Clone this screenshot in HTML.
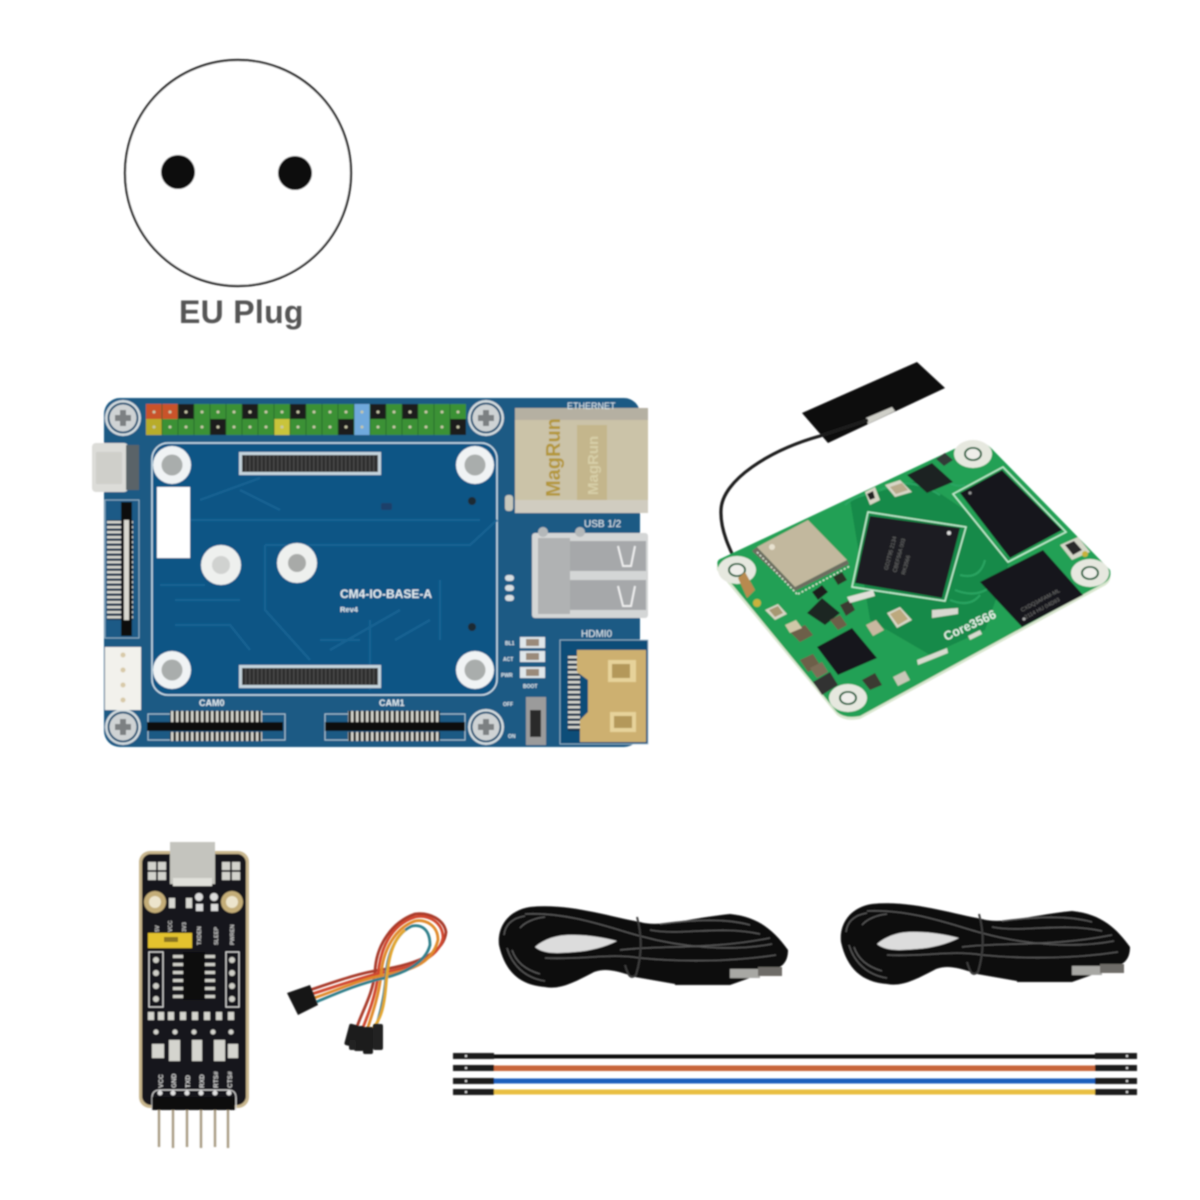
<!DOCTYPE html>
<html><head><meta charset="utf-8"><title>Kit</title>
<style>html,body{margin:0;padding:0;background:#fff}svg{display:block}text{font-family:"Liberation Sans",sans-serif}</style></head>
<body>
<svg width="1200" height="1200" viewBox="0 0 1200 1200" xmlns="http://www.w3.org/2000/svg">
<defs>
<filter id="b" x="-5%" y="-5%" width="110%" height="110%"><feGaussianBlur stdDeviation="0.7"/></filter>
<clipPath id="coreclip"><path d="M720 559 L967 443 Q982 438 993 450 L1110 570 Q1112 579 1104 583 L860 716 Q845 719 837 712 L718 567 Q716 561 720 559Z"/></clipPath>
<pattern id="tv" width="5" height="10" patternUnits="userSpaceOnUse"><rect width="5" height="10" fill="#1a1a1a"/><rect x="1" width="2.4" height="10" fill="#d8d8d0"/></pattern>
<pattern id="th" width="10" height="5" patternUnits="userSpaceOnUse"><rect width="10" height="5" fill="#12324c"/><rect y="1" width="10" height="2.4" fill="#d8d8d0"/></pattern>
<pattern id="conn" width="4" height="6" patternUnits="userSpaceOnUse"><rect width="4" height="6" fill="#2c2c2c"/><rect x="1" width="1.5" height="6" fill="#4c4c4c"/></pattern>
<g id="screw"><circle r="18" fill="#d4dcdf"/><circle r="15.5" fill="#1a4f72"/><circle r="13.5" fill="#cfd3d4"/><path d="M-8 -3H-3V-8H3V-3H8V3H3V8H-3V3H-8Z" fill="#7c8082"/></g>
<g id="hole"><circle r="19" fill="#f0f3f4"/><circle r="10.5" fill="#a9adac"/></g>
<g id="chole"><ellipse rx="19" ry="14" fill="#e6e8df"/><ellipse rx="9" ry="7" fill="#1b5c38"/><ellipse rx="7" ry="5.2" fill="#efeeea"/></g>
<g id="cable">
<path d="M530 907 C570 903 610 917 640 922 C660 928 690 918 730 914 C760 917 775 932 788 950 C788 962 782 966 778 968 L730 985 L675 984 L635 977 C615 970 605 968 594 972 C575 982 560 990 545 987 C520 985 505 972 499 945 C497 925 510 910 530 907Z" fill="#0c0c0c"/>
<path d="M535 947 C545 938 560 934 575 935 C590 935 605 938 617 941 C605 947 590 951 575 952 C560 953 545 955 535 947Z" fill="#dcdcdc"/>
<g fill="none" stroke="#5a5a5a" stroke-width="1.3">
<path d="M525 914 C570 912 610 928 640 936 C680 947 730 952 772 944"/>
<path d="M507 948 C512 965 525 978 545 981"/>
<path d="M512 950 C516 962 526 970 540 974"/>
<path d="M504 935 C505 925 512 918 525 916"/>
<path d="M520 928 C525 922 535 918 545 917"/>
<path d="M650 930 C680 936 720 925 760 934"/>
<path d="M660 924 C690 920 725 918 750 925"/>
<path d="M545 958 C580 960 610 953 640 958 C680 962 730 962 776 955"/>
<path d="M620 950 C660 945 710 950 770 938"/>
</g>
<path d="M637 917 C642 935 642 955 636 975 C630 980 628 975 625 965" fill="none" stroke="#3c3c3c" stroke-width="2"/>
<rect x="675" y="967" width="55" height="18" fill="#111"/>
<rect x="730" y="969" width="30" height="9" fill="#a8a8a4"/>
<rect x="758" y="967" width="24" height="9" fill="#6e6c68"/>
</g>
</defs>

<rect width="1200" height="1200" fill="#fff"/>

<!-- EU plug -->
<g filter="url(#b)">
<circle cx="238" cy="173" r="113" fill="#fff" stroke="#222" stroke-width="2.2"/>
<circle cx="178" cy="172" r="17" fill="#111"/>
<circle cx="295" cy="173" r="17" fill="#111"/>
<text x="179" y="323" font-size="32" font-weight="bold" fill="#555" letter-spacing="0.3">EU Plug</text>
</g>

<!-- Blue base board -->
<g filter="url(#b)">
<rect x="104" y="398" width="536" height="349" rx="16" fill="#1b5a84"/>
<rect x="152" y="443" width="345" height="252" rx="16" fill="#0e5585" stroke="#cfe0ea" stroke-width="1.5"/>
<g fill="none" stroke="#176494" stroke-width="2.5" opacity=".9">
<path d="M190 520H480"/><path d="M265 545H470L497 520"/><path d="M265 545V610L310 660"/>
<path d="M240 490L280 510"/><path d="M175 600H240"/><path d="M175 625H230L250 650"/>
<path d="M370 620V690"/><path d="M395 640L430 620"/><path d="M200 500L260 478"/><path d="M330 650L400 610"/>
<path d="M160 585H205"/><path d="M320 640H360"/><path d="M440 580V640"/>
</g>
<!-- header -->
<rect x="146" y="404" width="320" height="31" fill="#3a9136"/>
<g fill="#1f1f1f">
<rect x="178" y="404" width="16" height="15"/><rect x="242" y="404" width="16" height="15"/><rect x="290" y="404" width="16" height="15"/><rect x="370" y="404" width="16" height="15"/><rect x="402" y="404" width="16" height="15"/>
<rect x="210" y="419" width="16" height="16"/><rect x="338" y="419" width="16" height="16"/><rect x="450" y="419" width="16" height="16"/>
</g>
<rect x="146" y="404" width="16" height="15" fill="#c9532a"/><rect x="162" y="404" width="16" height="15" fill="#c9532a"/>
<rect x="146" y="419" width="16" height="16" fill="#b8ac2c"/><rect x="274" y="419" width="16" height="16" fill="#c9c43a"/>
<rect x="354" y="404" width="16" height="31" fill="#6fa9dc"/>
<g stroke="#1f5f2a" stroke-width="1" opacity=".7"><path d="M162 404V435M178 404V435M194 404V435M210 404V435M226 404V435M242 404V435M258 404V435M274 404V435M290 404V435M306 404V435M322 404V435M338 404V435M354 404V435M370 404V435M386 404V435M402 404V435M418 404V435M434 404V435M450 404V435"/></g>
<g fill="#c8c8a8">
<circle cx="154" cy="412" r="1.5"/><circle cx="170" cy="412" r="1.5"/><circle cx="186" cy="412" r="1.5"/><circle cx="202" cy="412" r="1.5"/><circle cx="218" cy="412" r="1.5"/><circle cx="234" cy="412" r="1.5"/><circle cx="250" cy="412" r="1.5"/><circle cx="266" cy="412" r="1.5"/><circle cx="282" cy="412" r="1.5"/><circle cx="298" cy="412" r="1.5"/><circle cx="314" cy="412" r="1.5"/><circle cx="330" cy="412" r="1.5"/><circle cx="346" cy="412" r="1.5"/><circle cx="362" cy="412" r="1.5"/><circle cx="378" cy="412" r="1.5"/><circle cx="394" cy="412" r="1.5"/><circle cx="410" cy="412" r="1.5"/><circle cx="426" cy="412" r="1.5"/><circle cx="442" cy="412" r="1.5"/><circle cx="458" cy="412" r="1.5"/>
<circle cx="154" cy="427" r="1.5"/><circle cx="170" cy="427" r="1.5"/><circle cx="186" cy="427" r="1.5"/><circle cx="202" cy="427" r="1.5"/><circle cx="218" cy="427" r="1.5"/><circle cx="234" cy="427" r="1.5"/><circle cx="250" cy="427" r="1.5"/><circle cx="266" cy="427" r="1.5"/><circle cx="282" cy="427" r="1.5"/><circle cx="298" cy="427" r="1.5"/><circle cx="314" cy="427" r="1.5"/><circle cx="330" cy="427" r="1.5"/><circle cx="346" cy="427" r="1.5"/><circle cx="362" cy="427" r="1.5"/><circle cx="378" cy="427" r="1.5"/><circle cx="394" cy="427" r="1.5"/><circle cx="410" cy="427" r="1.5"/><circle cx="426" cy="427" r="1.5"/><circle cx="442" cy="427" r="1.5"/><circle cx="458" cy="427" r="1.5"/>
</g>
<!-- screws, holes -->
<use href="#screw" x="123" y="418"/><use href="#screw" x="486" y="418"/><use href="#screw" x="123" y="727"/><use href="#screw" x="486" y="727"/>
<use href="#hole" x="172" y="465"/><use href="#hole" x="475" y="465"/><use href="#hole" x="172" y="670"/><use href="#hole" x="475" y="670"/>
<circle cx="221" cy="565" r="20" fill="#eef0ee"/><circle cx="221" cy="565" r="9" fill="#d0d2d0"/>
<circle cx="297" cy="563" r="20" fill="#eef0ee"/><circle cx="297" cy="563" r="9" fill="#a8aaa8"/>
<rect x="157" y="487" width="33" height="71" fill="#fff"/>
<!-- b2b connectors -->
<rect x="239" y="452" width="142" height="23" fill="#c5d4dd"/><rect x="242" y="455" width="136" height="17" fill="url(#conn)"/>
<rect x="239" y="665" width="142" height="23" fill="#c5d4dd"/><rect x="242" y="668" width="136" height="17" fill="url(#conn)"/>
<circle cx="472" cy="501" r="4" fill="#1a2a30"/><circle cx="472" cy="627" r="4" fill="#1a2a30"/>
<rect x="381" y="503" width="11" height="7" rx="2" fill="#1d3f6a"/>
<!-- usb-c -->
<rect x="92" y="443" width="36" height="49" rx="4" fill="#dcdcd8"/><rect x="96" y="452" width="26" height="32" fill="#cfcfca"/><rect x="126" y="445" width="13" height="45" fill="#5a6468"/>
<!-- FPC left -->
<rect x="105" y="500" width="34" height="138" fill="#1a5a86" stroke="#a8c4d4" stroke-width=".8"/>
<rect x="107" y="520" width="26" height="100" fill="url(#th)"/>
<rect x="121" y="502" width="11" height="134" fill="#111"/><rect x="124" y="520" width="5" height="100" fill="#d8d8d0"/>
<!-- white connector -->
<rect x="105" y="647" width="36" height="63" fill="#f2f1ec"/>
<g fill="#d8c9a8"><circle cx="123" cy="655" r="2.5"/><circle cx="123" cy="670" r="2.5"/><circle cx="123" cy="685" r="2.5"/><circle cx="123" cy="700" r="2.5"/></g>
<!-- CAM connectors -->
<rect x="148" y="714" width="137" height="26" fill="none" stroke="#a8c4d4" stroke-width="1"/>
<rect x="170" y="711" width="92" height="11" fill="url(#tv)"/><rect x="147" y="722" width="136" height="9" fill="#111"/><rect x="170" y="732" width="92" height="9" fill="url(#tv)"/>
<rect x="325" y="714" width="140" height="26" fill="none" stroke="#a8c4d4" stroke-width="1"/>
<rect x="348" y="711" width="92" height="11" fill="url(#tv)"/><rect x="325" y="722" width="140" height="9" fill="#111"/><rect x="348" y="732" width="92" height="9" fill="url(#tv)"/>
<!-- LEDs & switch -->
<g fill="#dfe6ea"><rect x="520" y="637" width="25" height="11"/><rect x="520" y="651" width="25" height="11"/><rect x="520" y="667" width="25" height="11"/></g>
<g fill="#9a8a7a"><rect x="526" y="639" width="13" height="7"/><rect x="526" y="653" width="13" height="7"/><rect x="526" y="669" width="13" height="7"/></g>
<rect x="526" y="697" width="20" height="48" fill="#9b9b9b"/><rect x="530" y="710" width="11" height="27" fill="#2a2a2a"/>
<g fill="#d8dfe2"><rect x="505" y="575" width="9" height="6" rx="3"/><rect x="505" y="585" width="9" height="6" rx="3"/><rect x="505" y="595" width="9" height="6" rx="3"/></g>
<!-- ethernet -->
<rect x="515" y="408" width="133" height="105" fill="#cbc3a8"/>
<rect x="515" y="408" width="133" height="12" fill="#b5b0a2"/>
<rect x="577" y="425" width="30" height="76" fill="#c4b68c"/>
<text transform="translate(560 497) rotate(-90)" font-size="20" font-weight="bold" fill="#b4973a">MagRun</text>
<text transform="translate(598 495) rotate(-90)" font-size="15" font-weight="bold" fill="#d7cfa8">MagRun</text>
<rect x="515" y="500" width="133" height="13" fill="#d0ccc0"/>
<rect x="505" y="495" width="8" height="16" rx="3" fill="#c8c8bc"/>
<!-- USB -->
<rect x="532" y="533" width="116" height="85" rx="3" fill="#d4d6d6"/>
<rect x="538" y="538" width="32" height="76" fill="#b0b2b3"/>
<rect x="570" y="541" width="76" height="30" fill="#a6a8aa"/><rect x="570" y="580" width="76" height="30" fill="#a6a8aa"/>
<path d="M618 546l5 20h8l4-20" fill="none" stroke="#eee" stroke-width="2"/><path d="M618 586l5 20h8l4-20" fill="none" stroke="#eee" stroke-width="2"/>
<circle cx="543" cy="532" r="5" fill="#b4b8ba"/><circle cx="580" cy="532" r="5" fill="#b4b8ba"/>
<!-- HDMI -->
<rect x="560" y="640" width="88" height="104" fill="#114d78" stroke="#a8c4d4" stroke-width=".8"/>
<rect x="568" y="655" width="12" height="76" fill="url(#th)"/>
<path d="M577 650H646V742H580V720L588 712V680L577 672Z" fill="#cdb070"/>
<rect x="608" y="660" width="28" height="22" fill="#e6d29a"/><rect x="610" y="712" width="26" height="20" fill="#e6d29a"/>
<path d="M612 664h18v14h-18z M614 716h18v12h-18z" fill="#b4985a"/>
<!-- labels -->
<text x="340" y="598" font-size="12" font-weight="bold" fill="#e6eef2">CM4-IO-BASE-A</text>
<text x="340" y="612" font-size="7.5" font-weight="bold" fill="#e6eef2">Rev4</text>
<text x="199" y="706" font-size="9" font-weight="bold" fill="#e6eef2">CAM0</text>
<text x="379" y="706" font-size="9" font-weight="bold" fill="#e6eef2">CAM1</text>
<text x="567" y="409" font-size="9" fill="#e6eef2">ETHERNET</text>
<text x="584" y="527" font-size="10" fill="#e6eef2">USB 1/2</text>
<text x="581" y="637" font-size="10" fill="#e6eef2">HDMI0</text>
<g font-size="5" fill="#e6eef2" font-weight="bold"><text x="505" y="645">BL1</text><text x="503" y="661">ACT</text><text x="501" y="677">PWR</text><text x="523" y="688">BOOT</text><text x="503" y="706">OFF</text><text x="508" y="738">ON</text></g>
</g>

<!-- Antenna + Core board -->
<g filter="url(#b)">
<polygon points="802,413 917,362 945,388 828,443" fill="#111"/>
<polygon points="866,418 892,407 895,411 868,424" fill="#cfcfc8"/>
<path d="M868 420 L820 436 C770 450 722 480 721 510 C720 530 730 550 738 566" fill="none" stroke="#1e1e1e" stroke-width="3.2"/>
<path d="M720 561 L967 445 Q982 440 993 453 L1110 573 Q1112 582 1104 586 L860 719 Q845 722 837 715 L717 570 Q716 563 720 561Z" fill="#d9e6cf"/>
<path d="M720 559 L967 443 Q982 438 993 450 L1110 570 Q1112 579 1104 583 L860 716 Q845 719 837 712 L718 567 Q716 561 720 559Z" fill="#22a055"/>
<g clip-path="url(#coreclip)">
<path d="M850 500 L920 480 L965 510 L1010 560 L985 630 L930 655 L870 620Z" fill="#178a4a"/>
<g fill="none" stroke="#2aa562" stroke-width="2"><path d="M880 490q30-15 60 5"/><path d="M950 600q20 8 30-5"/><path d="M960 575q20 5 25-15"/><path d="M845 505q10-10 30-12"/><path d="M955 590q25 10 40-8"/><path d="M945 480q10 8 20 5"/></g>
</g>
<!-- holes -->
<use href="#chole" x="973" y="454"/><use href="#chole" x="1090" y="573"/><use href="#chole" x="848" y="698"/><use href="#chole" x="737" y="570"/>
<!-- SoC -->
<polygon points="868,512 966,527 945,601 852,587" fill="none" stroke="#c4eed2" stroke-width="1.5"/>
<polygon points="870,516 960,528 942,598 855,583" fill="#1d1f22"/>
<circle cx="949" cy="533" r="2" fill="#ddd"/>
<g transform="translate(905 575) rotate(-75)" font-size="5.5" fill="#777"><text x="0" y="0">RK3566</text><text x="0" y="-9">CBEF56A 003</text><text x="0" y="-18">GD2T95 2134</text></g>
<!-- RAM -->
<polygon points="953,494 1003,467 1066,532 1008,562" fill="none" stroke="#c4eed2" stroke-width="1.5"/>
<polygon points="960,493 1002,470 1062,530 1010,558" fill="#17181a"/>
<circle cx="970" cy="493" r="1.5" fill="#999"/>
<!-- eMMC -->
<polygon points="980,582 1043,550 1083,595 1022,627" fill="#17181a"/>
<circle cx="1024" cy="619" r="1.5" fill="#aaa"/>
<g transform="translate(1022 612) rotate(-28)" font-size="5.5" fill="#777"><text x="0" y="0">CXDQ3AFAM-ML</text><text x="0" y="8">2114 HU 04D93</text></g>
<!-- wifi -->
<polygon points="752,551 795,591 849,564 847,560 795,587 757,547" fill="#6d6d60"/>
<polygon points="757,547 808,520 847,560 795,587" fill="#c2b89e"/>
<circle cx="772" cy="547" r="3" fill="#e8e2d0"/>
<g fill="none" stroke="#dfe9d8" stroke-width="1.5" stroke-dasharray="2 2"><path d="M757 552L797 594"/><path d="M798 594L850 566"/></g>
<!-- chips & parts -->
<polygon points="907,475 932,463 953,482 927,493" fill="#1e2422"/>
<polygon points="936,459 945,453 953,460 944,466" fill="#333a38"/>
<polygon points="817,647 852,628 877,658 838,675" fill="#17191a"/>
<polygon points="807,613 822,598 840,613 825,625" fill="#1f2624"/>
<polygon points="812,592 822,585 828,592 818,600" fill="#1a1a1a"/>
<polygon points="833,577 842,572 847,580 838,585" fill="#2a3028"/>
<polygon points="840,605 850,600 855,610 846,616" fill="#3a3a30"/>
<polygon points="885,485 900,480 912,492 895,497" fill="#d8d6c6"/><polygon points="890,487 902,483 908,490 896,494" fill="#b8ab8c"/>
<polygon points="887,613 900,607 912,620 897,628" fill="#d8d6c6"/><polygon points="890,614 900,609 908,619 898,625" fill="#bca97e"/>
<polygon points="765,610 778,604 787,614 775,620" fill="#d8d6c6"/><polygon points="769,610 778,606 783,613 775,617" fill="#a69872"/>
<polygon points="865,492 875,487 880,500 870,505" fill="#d8d6c6"/><polygon points="867,494 873,491 875,498 870,500" fill="#222"/>
<polygon points="1060,545 1078,537 1090,552 1072,560" fill="#d4d6c8"/><polygon points="1065,545 1074,541 1082,550 1073,555" fill="#2c2c2c"/>
<polygon points="790,632 805,625 813,635 800,642" fill="#6d5e48"/><polygon points="800,660 813,654 820,665 808,672" fill="#6d5e48"/>
<polygon points="813,682 830,672 838,685 822,695" fill="#333"/><polygon points="862,680 875,673 882,685 870,690" fill="#3a3a30"/>
<polygon points="830,620 840,615 847,625 838,630" fill="#6d5e48"/><polygon points="866,625 876,620 884,630 873,636" fill="#c8b8a0"/>
<polygon points="785,625 796,620 802,628 790,633" fill="#d0c8a8"/>
<polygon points="810,668 822,662 828,672 817,678" fill="#7d6e58"/>
<polygon points="893,677 905,671 910,680 898,686" fill="#c8c8b8"/>
<polygon points="847,597 873,590 875,596 850,603" fill="#e0e0d8"/>
<polygon points="738,578 745,572 755,590 747,598" fill="#b88a50"/>
<circle cx="757" cy="603" r="4" fill="#c8b23c"/><circle cx="1085" cy="554" r="3" fill="#c8b23c"/>
<polygon points="932,610 958,608 958,614 932,618" fill="#d8d8d0"/>
<polygon points="917,660 947,648 948,653 918,665" fill="#d8dcd0"/>
<polygon points="968,636 980,630 982,634 970,640" fill="#d8dcd0"/>
<text transform="translate(946 641) rotate(-25)" font-size="12.5" font-weight="bold" fill="#e6f2e8">Core3566</text>
</g>

<!-- UART board -->
<g filter="url(#b)">
<rect x="139" y="851" width="110" height="257" rx="11" fill="#c8b68e"/>
<rect x="142" y="854" width="104" height="251" rx="9" fill="#17171a"/>
<rect x="170" y="842" width="45" height="42" fill="#c4c4be"/><rect x="173" y="878" width="39" height="8" fill="#e0e0da"/>
<g fill="#d2d2cc"><rect x="148" y="862" width="8" height="8"/><rect x="148" y="872" width="8" height="8"/><rect x="158" y="862" width="8" height="8"/><rect x="158" y="872" width="8" height="8"/><rect x="222" y="862" width="8" height="8"/><rect x="222" y="872" width="8" height="8"/><rect x="232" y="862" width="8" height="8"/><rect x="232" y="872" width="8" height="8"/></g>
<circle cx="155" cy="902" r="11" fill="#c4ad78"/><circle cx="155" cy="902" r="6" fill="#ece4cc"/>
<circle cx="232" cy="902" r="11" fill="#c4ad78"/><circle cx="232" cy="902" r="6" fill="#ece4cc"/>
<rect x="169" y="898" width="6" height="10" fill="#d8d8d2"/><rect x="186" y="898" width="6" height="10" fill="#d8d8d2"/>
<circle cx="199" cy="897" r="4" fill="#ddd"/><rect x="196" y="904" width="7" height="7" fill="#ddd"/><circle cx="214" cy="897" r="4" fill="#ddd"/><rect x="211" y="904" width="7" height="7" fill="#ddd"/>
<rect x="148" y="933" width="44" height="15" fill="#e3c22e"/><rect x="164" y="937" width="14" height="5" fill="#8a7420"/>
<g fill="#cfcfcf" font-size="5.5" font-weight="bold">
<text transform="translate(159 932) rotate(-90)">5V</text><text transform="translate(172 932) rotate(-90)">VCC</text><text transform="translate(186 932) rotate(-90)">3V3</text>
<text transform="translate(201 945) rotate(-90)">TXDEN</text><text transform="translate(218 945) rotate(-90)">SLEEP</text><text transform="translate(234 945) rotate(-90)">PWREN</text>
</g>
<rect x="149" y="952" width="14" height="55" fill="none" stroke="#ddd" stroke-width="1"/>
<rect x="226" y="952" width="13" height="55" fill="none" stroke="#ddd" stroke-width="1"/>
<g fill="#cfcfc8"><circle cx="156" cy="960" r="3"/><circle cx="156" cy="973" r="3"/><circle cx="156" cy="986" r="3"/><circle cx="156" cy="999" r="3"/><circle cx="232" cy="960" r="3"/><circle cx="232" cy="973" r="3"/><circle cx="232" cy="986" r="3"/><circle cx="232" cy="999" r="3"/></g>
<rect x="183" y="952" width="22" height="48" fill="#0c0c0c"/>
<g fill="#cfcfc8"><rect x="173" y="955" width="10" height="3"/><rect x="173" y="963" width="10" height="3"/><rect x="173" y="971" width="10" height="3"/><rect x="173" y="979" width="10" height="3"/><rect x="173" y="987" width="10" height="3"/><rect x="173" y="995" width="10" height="3"/>
<rect x="205" y="955" width="10" height="3"/><rect x="205" y="963" width="10" height="3"/><rect x="205" y="971" width="10" height="3"/><rect x="205" y="979" width="10" height="3"/><rect x="205" y="987" width="10" height="3"/><rect x="205" y="995" width="10" height="3"/></g>
<g fill="#d4d4ce"><rect x="148" y="1012" width="6" height="8"/><rect x="158" y="1012" width="6" height="8"/><rect x="168" y="1012" width="6" height="8"/><rect x="180" y="1012" width="6" height="8"/><rect x="192" y="1012" width="6" height="8"/><rect x="204" y="1012" width="6" height="8"/><rect x="216" y="1012" width="6" height="8"/><rect x="228" y="1012" width="6" height="8"/>
<circle cx="156" cy="1032" r="2.5"/><circle cx="175" cy="1032" r="2.5"/><circle cx="194" cy="1032" r="2.5"/><circle cx="213" cy="1032" r="2.5"/><circle cx="231" cy="1032" r="2.5"/>
<rect x="169" y="1040" width="11" height="21"/><rect x="192" y="1040" width="10" height="21"/><rect x="214" y="1040" width="11" height="21"/>
<rect x="152" y="1044" width="12" height="14"/><rect x="228" y="1044" width="10" height="14"/></g>
<g fill="#d8d8d8" font-size="6.5" font-weight="bold">
<text transform="translate(163 1088) rotate(-90)">VCC</text><text transform="translate(176 1088) rotate(-90)">GND</text><text transform="translate(190 1088) rotate(-90)">TXD</text><text transform="translate(204 1088) rotate(-90)">RXD</text><text transform="translate(218 1088) rotate(-90)">RTS#</text><text transform="translate(232 1088) rotate(-90)">CTS#</text>
</g>
<path d="M152 1110V1098Q152 1090 160 1090H228Q236 1090 236 1098V1110" fill="none" stroke="#ddd" stroke-width="1"/>
<g fill="#e0e0e0"><circle cx="160" cy="1093" r="2.5"/><circle cx="173" cy="1093" r="2.5"/><circle cx="187" cy="1093" r="2.5"/><circle cx="201" cy="1093" r="2.5"/><circle cx="215" cy="1093" r="2.5"/><circle cx="229" cy="1093" r="2.5"/></g>
<rect x="152" y="1097" width="83" height="13" fill="#0a0a0a"/>
<g stroke="#a89c84" stroke-width="2.4"><path d="M159 1110V1147"/><path d="M173 1110V1148"/><path d="M187 1110V1147"/><path d="M201 1110V1148"/><path d="M215 1110V1147"/><path d="M228 1110V1148"/></g>
</g>

<!-- jumper bundle -->
<g filter="url(#b)" fill="none" stroke-width="2.8">
<path d="M310 990 C340 980 360 973 380 970 C412 965 444 955 446 932 C444 920 430 912 415 914 C392 922 376 945 375 972 C373 995 360 1015 356 1030" stroke="#a83a2a"/>
<path d="M312 994 C340 985 360 978 380 973 C410 968 438 960 443 938 C443 922 428 914 415 917 C390 925 380 950 378 975 C376 995 368 1015 362 1030" stroke="#d0472f"/>
<path d="M314 998 C340 989 360 980 380 976 C408 971 432 965 438 940 C438 925 425 919 415 921 C395 928 383 950 381 975 C379 995 372 1015 367 1030" stroke="#e08a2c"/>
<path d="M316 1002 C340 992 358 984 384 978 C400 974 425 965 430 945 C430 930 422 924 412 926 C398 932 388 950 386 975 C385 995 380 1015 375 1030" stroke="#2f7f8a"/>
<path d="M405 930 C392 940 388 960 386 985 C384 1010 380 1020 372 1030" stroke="#e3a62e"/>
</g>
<g filter="url(#b)">
<polygon points="287,993 310,985 318,1005 298,1015" fill="#141414"/>
<rect x="347" y="1024" width="9" height="22" rx="2" fill="#1a1a1a" transform="rotate(15 351 1034)"/>
<rect x="354" y="1026" width="10" height="25" rx="2" fill="#1a1a1a"/>
<rect x="363" y="1027" width="10" height="27" rx="2" fill="#1a1a1a"/>
<rect x="373" y="1024" width="10" height="26" rx="2" fill="#222"/>
<rect x="349" y="1040" width="7" height="10" rx="2" fill="#222"/>
</g>

<!-- USB cables -->
<g filter="url(#b)">
<use href="#cable"/>
<use href="#cable" x="342" y="-3"/>
</g>

<!-- Jumper wires -->
<g filter="url(#b)">
<rect x="494" y="1054.5" width="601" height="4" fill="#111"/>
<rect x="494" y="1065.5" width="601" height="5.5" fill="#c8663a"/>
<rect x="494" y="1078.5" width="601" height="5" fill="#1f5fbd"/>
<rect x="494" y="1089.5" width="601" height="5" fill="#e9bf42"/>
<g fill="#1c1c1c">
<rect x="453" y="1053" width="41" height="6"/><rect x="453" y="1065" width="41" height="6"/><rect x="453" y="1078" width="41" height="6"/><rect x="453" y="1089" width="41" height="6"/>
<rect x="1095" y="1053" width="42" height="6"/><rect x="1095" y="1065" width="42" height="6"/><rect x="1095" y="1078" width="42" height="6"/><rect x="1095" y="1089" width="42" height="6"/>
</g>
<g fill="#ddd"><rect x="465" y="1055" width="2" height="2"/><rect x="465" y="1067" width="2" height="2"/><rect x="465" y="1080" width="2" height="2"/><rect x="465" y="1091" width="2" height="2"/><rect x="1126" y="1055" width="2" height="2"/><rect x="1126" y="1067" width="2" height="2"/><rect x="1126" y="1080" width="2" height="2"/><rect x="1126" y="1091" width="2" height="2"/></g>
</g>
</svg>
</body></html>
